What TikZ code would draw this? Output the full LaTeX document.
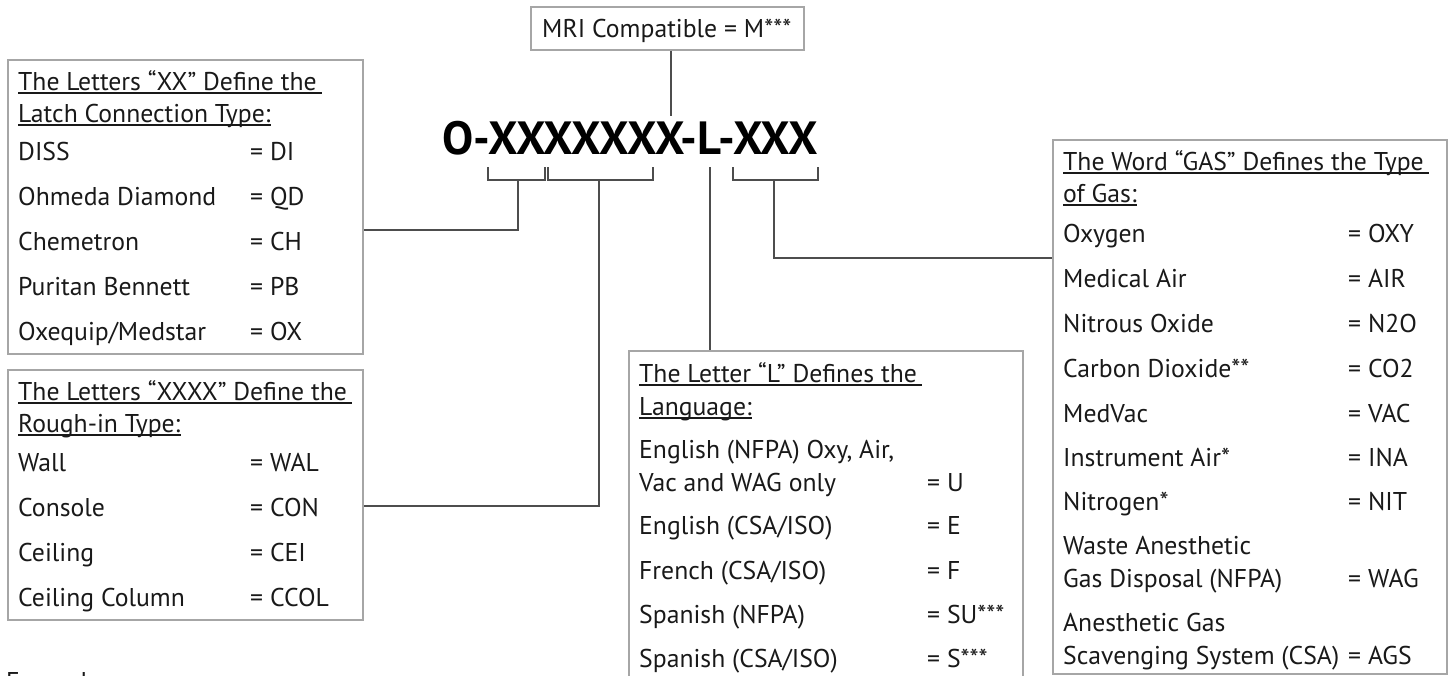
\documentclass[tikz,border=0pt]{standalone}
\usepackage{fontspec}
\setmainfont{PT Sans}
\definecolor{boxgray}{HTML}{A6A6A6}
\definecolor{conngray}{HTML}{4D4D4D}
\begin{document}
\begin{tikzpicture}[x=1pt,y=-1pt,
  txt/.style={inner sep=0pt, anchor=base west, font=\fontsize{25.7}{30}\selectfont, text=black!90},
  boxframe/.style={draw=boxgray, line width=1.5pt, inner sep=0pt, anchor=north west},
  conn/.style={draw=conngray, line width=2pt},
  ul/.style={draw=black!90, line width=1.4pt}]
\useasboundingbox (0,0) rectangle (1449,675);

% ---------- boxes ----------
\node[boxframe, minimum width=273pt, minimum height=43pt] (mri) at (530,6) {};
\node[boxframe, minimum width=355pt, minimum height=294pt] (box1) at (7,59) {};
\node[boxframe, minimum width=355pt, minimum height=250pt] (box2) at (7,369) {};
\node[boxframe, minimum width=394pt, minimum height=340pt] (box3) at (628,350) {};
\node[boxframe, minimum width=394pt, minimum height=534pt] (box4) at (1052,139) {};

% ---------- title ----------
\node[inner sep=0pt, anchor=base west, font=\bfseries\fontsize{46.6}{52}\selectfont] (title) at (442,154) {O-XXXXXXX-L-XXX};
\node[txt] (mritxt) at (542,37) {MRI Compatible = M***};

% ---------- box 1 ----------
\node[txt] (h1a) at (18,90) {The Letters “XX” Define the};
\node[txt] (h1b) at (18,122) {Latch Connection Type:};
\draw[ul] ([yshift=-3pt]h1a.base west) -- ([xshift=5pt,yshift=-3pt]h1a.base east);
\draw[ul] ([yshift=-3pt]h1b.base west) -- ([yshift=-3pt]h1b.base east);
\node[txt] (b1l1) at (18,160) {DISS};             \node[txt] (b1e1) at (250,160) {= DI};
\node[txt] (b1l2) at (18,205) {Ohmeda Diamond};   \node[txt] (b1e2) at (250,205) {= QD};
\node[txt] (b1l3) at (18,250) {Chemetron};        \node[txt] (b1e3) at (250,250) {= CH};
\node[txt] (b1l4) at (18,295) {Puritan Bennett};  \node[txt] (b1e4) at (250,295) {= PB};
\node[txt] (b1l5) at (18,340) {Oxequip/Medstar};  \node[txt] (b1e5) at (250,340) {= OX};

% ---------- box 2 ----------
\node[txt] (h2a) at (18,400) {The Letters “XXXX” Define the};
\node[txt] (h2b) at (18,432) {Rough-in Type:};
\draw[ul] ([yshift=-3pt]h2a.base west) -- ([xshift=5pt,yshift=-3pt]h2a.base east);
\draw[ul] ([yshift=-3pt]h2b.base west) -- ([yshift=-3pt]h2b.base east);
\node[txt] (b2l1) at (18,471) {Wall};            \node[txt] (b2e1) at (250,471) {= WAL};
\node[txt] (b2l2) at (18,516) {Console};         \node[txt] (b2e2) at (250,516) {= CON};
\node[txt] (b2l3) at (18,561) {Ceiling};         \node[txt] (b2e3) at (250,561) {= CEI};
\node[txt] (b2l4) at (18,606) {Ceiling Column};  \node[txt] (b2e4) at (250,606) {= CCOL};

% ---------- box 3 ----------
\node[txt] (h3a) at (639,382) {The Letter “L” Defines the};
\node[txt] (h3b) at (639,415) {Language:};
\draw[ul] ([yshift=-3pt]h3a.base west) -- ([xshift=5pt,yshift=-3pt]h3a.base east);
\draw[ul] ([yshift=-3pt]h3b.base west) -- ([yshift=-3pt]h3b.base east);
\node[txt] (b3l1a) at (639,458) {English (NFPA) Oxy, Air,};
\node[txt] (b3l1b) at (639,491) {Vac and WAG only};     \node[txt] (b3e1) at (927,491) {= U};
\node[txt] (b3l2) at (639,534) {English (CSA/ISO)};     \node[txt] (b3e2) at (927,534) {= E};
\node[txt] (b3l3) at (639,579) {French (CSA/ISO)};      \node[txt] (b3e3) at (927,579) {= F};
\node[txt] (b3l4) at (639,623) {Spanish (NFPA)};        \node[txt] (b3e4) at (927,623) {= SU***};
\node[txt] (b3l5) at (639,667) {Spanish (CSA/ISO)};     \node[txt] (b3e5) at (927,667) {= S***};

% ---------- box 4 ----------
\node[txt] (h4a) at (1063,170) {The Word “GAS” Defines the Type};
\node[txt] (h4b) at (1063,202) {of Gas:};
\draw[ul] ([yshift=-3pt]h4a.base west) -- ([xshift=5pt,yshift=-3pt]h4a.base east);
\draw[ul] ([yshift=-3pt]h4b.base west) -- ([yshift=-3pt]h4b.base east);
\node[txt] (b4l1) at (1063,242) {Oxygen};              \node[txt] (b4e1) at (1348,242) {= OXY};
\node[txt] (b4l2) at (1063,287) {Medical Air};         \node[txt] (b4e2) at (1348,287) {= AIR};
\node[txt] (b4l3) at (1063,332) {Nitrous Oxide};       \node[txt] (b4e3) at (1348,332) {= N2O};
\node[txt] (b4l4) at (1063,377) {Carbon Dioxide**};    \node[txt] (b4e4) at (1348,377) {= CO2};
\node[txt] (b4l5) at (1063,422) {MedVac};              \node[txt] (b4e5) at (1348,422) {= VAC};
\node[txt] (b4l6) at (1063,466) {Instrument Air*};     \node[txt] (b4e6) at (1348,466) {= INA};
\node[txt] (b4l7) at (1063,510) {Nitrogen*};           \node[txt] (b4e7) at (1348,510) {= NIT};
\node[txt] (b4l8a) at (1063,554) {Waste Anesthetic};
\node[txt] (b4l8b) at (1063,587) {Gas Disposal (NFPA)}; \node[txt] (b4e8) at (1348,587) {= WAG};
\node[txt] (b4l9a) at (1063,631) {Anesthetic Gas};
\node[txt] (b4l9b) at (1063,664) {Scavenging System (CSA)}; \node[txt] (b4e9) at (1348,664) {= AGS};

% ---------- example (cut off, as in the reference) ----------
\node[txt] (example) at (6,690) {Example};

% ---------- connectors ----------
\coordinate (mrilow) at (671,116);
\draw[conn] (mri.south -| mrilow) -- (mrilow);
% bracket 1
\draw[conn] (488,167) -- (488,180) -- (545,180) -- (545,167);
\coordinate (s1) at (518,180);
\draw[conn] (s1) -- (518,230) -- (box1.east |- 518,230);
% bracket 2
\draw[conn] (548,167) -- (548,180) -- (653,180) -- (653,167);
\coordinate (s2) at (599,180);
\draw[conn] (s2) -- (599,506) -- (box2.east |- 599,506);
% L line
\coordinate (sL) at (710,167);
\draw[conn] (sL) -- (box3.north -| sL);
% bracket 3
\draw[conn] (733,167) -- (733,180) -- (818,180) -- (818,167);
\coordinate (s3) at (774,180);
\draw[conn] (s3) -- (774,258) -- (box4.west |- 774,258);
\end{tikzpicture}
\end{document}
